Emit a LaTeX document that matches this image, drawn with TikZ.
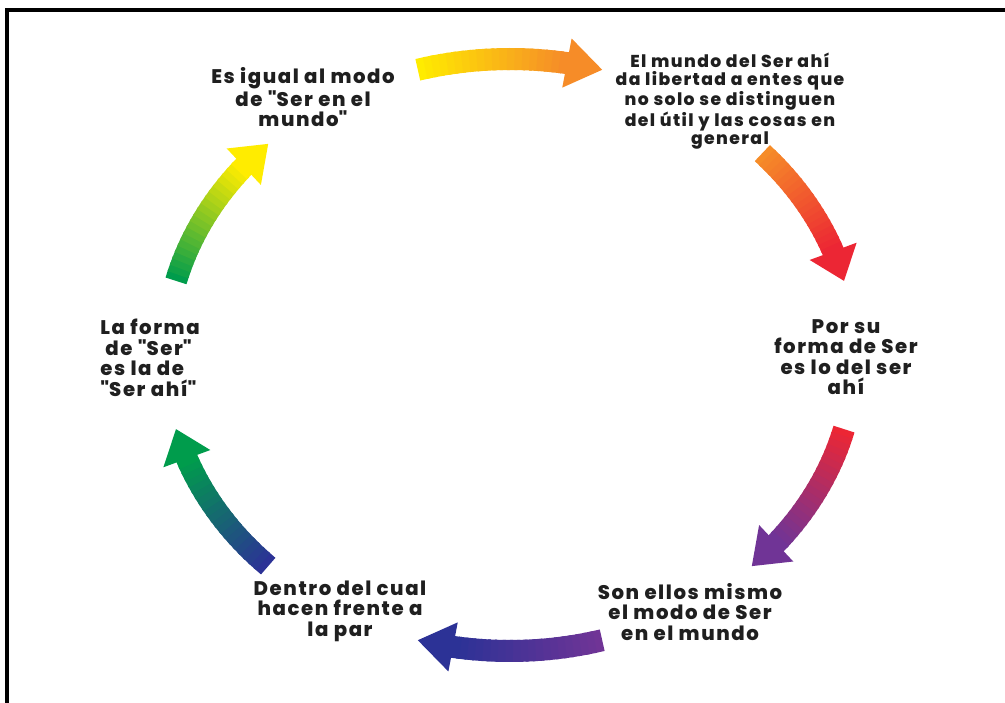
\documentclass[tikz,border=0pt]{standalone}
\usepackage{fontspec}
\IfFontExistsTF{Poppins ExtraBold}
  {\setmainfont{Poppins}[LetterSpace=8, BoldFont={Poppins ExtraBold}]}
  {\setmainfont{Poppins}[LetterSpace=9]}
\usetikzlibrary{calc}
\usepackage{xcolor}
\definecolor{ringyellow}{RGB}{255,236,0}
\definecolor{ringorange}{RGB}{246,140,40}
\definecolor{ringred}{RGB}{236,38,52}
\definecolor{ringpurple}{RGB}{112,52,150}
\definecolor{ringblue}{RGB}{44,50,150}
\definecolor{ringgreen}{RGB}{0,156,76}
\tikzset{
  stage/.style = {align=center, inner sep=0pt, text=black!88, font=\bfseries\fontsize{11.2}{11.7}\selectfont},
  small stage/.style = {stage, font=\bfseries\fontsize{9.8}{10.3}\selectfont},
  shaft/.style = {line width=4.4mm, line cap=butt},
  frame/.style = {line width=0.8mm, draw=black}
}

\begin{document}
\begin{tikzpicture}[x=0.2mm, y=-0.2mm]
\useasboundingbox (0,0) rectangle (1005,703);

\draw[frame] (7,703) -- (7,10) -- (1005,10);

\node[stage] (esigual) at (303,97) {Es igual al modo\\de \textquotedbl Ser en el\\mundo\textquotedbl};
\node[small stage] (mundo) at (730,101) {El mundo del Ser ahí\\da libertad a entes que\\no solo se distinguen\\del útil y las cosas en\\general};
\node[stage] (porsu) at (846,357) {Por su\\forma de Ser\\es lo del ser\\ahí};
\node[stage] (ellos) at (690,612) {Son ellos mismo\\el modo de Ser\\en el mundo};
\node[stage] (dentro) at (340,611) {Dentro del cual\\hacen frente a\\la par};
\node[stage, align=left, anchor=west] (forma) at (100,358) {La forma\\\hspace*{1mm}de \textquotedbl Ser\textquotedbl\\es la de\\\textquotedbl Ser ahí\textquotedbl};

% six arrows round the ring (centre 510,355), colour runs from tail to head
\foreach \c/\sa/\ca/\cb [count=\k] in {90/15.5/ringyellow/ringorange, 30/13/ringorange/ringred, -30/15.5/ringred/ringpurple, -90/15.5/ringpurple/ringblue, -150/15.5/ringblue/ringgreen, 150/15.5/ringgreen/ringyellow} {
  \pgfmathsetmacro{\ts}{\c+\sa}
  \pgfmathsetmacro{\tb}{\c-9.5}
  \pgfmathsetmacro{\te}{\c-15.5}
  \coordinate (arr\k tail) at ({510+345*cos(\ts)},{355-296*sin(\ts)});
  \coordinate (arr\k base) at ({510+345*cos(\tb)},{355-296*sin(\tb)});
  \coordinate (arr\k tip) at ({510+345*cos(\te)},{355-296*sin(\te)});
  \foreach \i in {0,...,19} {
    \pgfmathsetmacro{\a}{\ts-(\ts-\tb)*\i/20}
    \pgfmathsetmacro{\b}{\ts-(\ts-\tb)*(\i+1.4)/20}
    \pgfmathtruncatemacro{\p}{100-100*\i/19}
    \draw[shaft, draw=\ca!\p!\cb] ({510+345*cos(\a)},{355-296*sin(\a)}) -- ({510+345*cos(\b)},{355-296*sin(\b)});
  }
  \fill[\cb] (arr\k tip) -- ($(arr\k base)!5mm!90:(arr\k tip)$) -- ($(arr\k base)!5mm!-90:(arr\k tip)$) -- cycle;
}

\end{tikzpicture}
\end{document}
